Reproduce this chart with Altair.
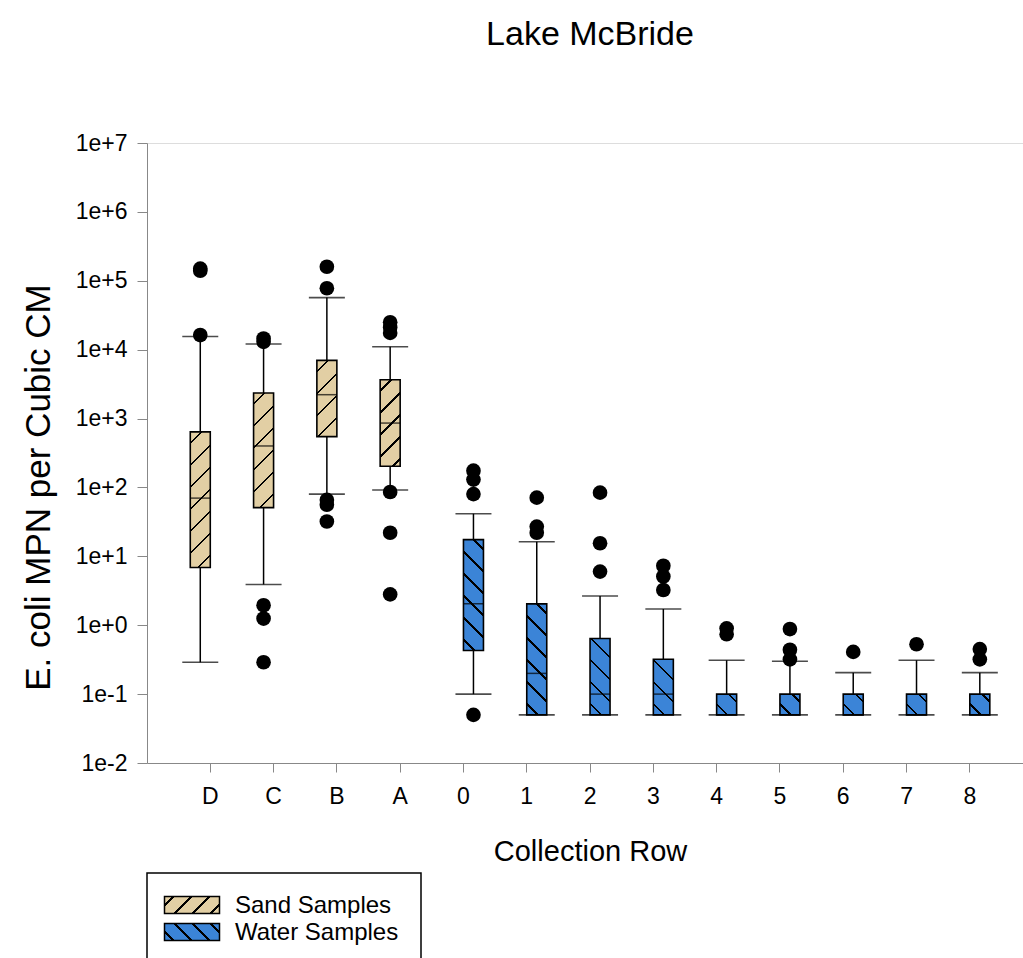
import math
import altair as alt
import pandas as pd

# ---------------- data ----------------
CATS = ["D", "C", "B", "A", "0", "1", "2", "3", "4", "5", "6", "7", "8"]
GROUPS = ["Sand", "Sand", "Sand", "Sand", "Water", "Water", "Water", "Water",
          "Water", "Water", "Water", "Water", "Water"]
LOWER = [0.29, 3.9, 80, 92, 0.1, 0.05, 0.05, 0.05, 0.05, 0.05, 0.05, 0.05, 0.05]
Q1 = [6.9, 51, 546, 203, 0.43, 0.05, 0.05, 0.05, 0.05, 0.05, 0.05, 0.05, 0.05]
MEDIAN = [70, 400, 2220, 860, 2.05, 0.2, 0.1, 0.1, 0.05, 0.05, 0.05, 0.05, 0.05]
Q3 = [640, 2350, 7000, 3650, 17.5, 2.04, 0.64, 0.32, 0.1, 0.1, 0.1, 0.1, 0.1]
UPPER = [15500, 12100, 57000, 11000, 41.5, 16.3, 2.65, 1.72, 0.31, 0.30, 0.205, 0.31, 0.205]
OUTLIERS = [
    [150000, 140000, 16300],
    [14500, 13000, 1.95, 1.25, 0.29],
    [160000, 78000, 66, 56, 32],
    [25000, 21000, 17500, 86, 22, 2.8],
    [175, 130, 80, 0.05],
    [71, 27, 22],
    [84, 15.5, 6.0],
    [7.3, 5.1, 3.25],
    [0.9, 0.74],
    [0.88, 0.44, 0.32],
    [0.41],
    [0.53],
    [0.45, 0.32],
]
GROUP_NAMES = ["Sand", "Water"]
LEGEND_LABELS = ["Sand Samples", "Water Samples"]
Y_TICKS = [1e-2, 1e-1, 1e0, 1e1, 1e2, 1e3, 1e4, 1e5, 1e6, 1e7]

TITLE = "Lake McBride"
X_TITLE = "Collection Row"
Y_TITLE = "E. coli MPN per Cubic CM"

# ---------------- style ----------------
FONT = "Liberation Sans"
SAND = "#E2CFA4"
WATER = "#3B84D7"
HATCH = {"Sand": "/", "Water": "\\"}
FILL = {"Sand": SAND, "Water": WATER}
PLOT_W, PLOT_H = 876, 620
Y_MIN, Y_MAX = 1e-2, 1e7
BOX_W = 20
DECADES = math.log10(Y_MAX) - math.log10(Y_MIN)


def hatch_gradient(color, w, h, direction, period=22.0, lw=1.6):
    L = w + h
    m = L / (w * w + h * h)
    gx, gy = w * m, h * m
    if direction == "/":
        x1, y1, x2, y2 = 0, 0, gx, gy
    else:
        x1, y1, x2, y2 = 0, 1, gx, 1 - gy
    half = lw * math.sqrt(2) / 2.0
    stops = [alt.GradientStop(color=color, offset=0)]
    c = period / 2.0
    while c - half < L:
        a = max(0.0, (c - half) / L)
        b = min(1.0, (c + half) / L)
        stops += [alt.GradientStop(color=color, offset=a),
                  alt.GradientStop(color="black", offset=a),
                  alt.GradientStop(color="black", offset=b),
                  alt.GradientStop(color=color, offset=b)]
        c += period
    stops.append(alt.GradientStop(color=color, offset=1))
    return alt.LinearGradient(gradient="linear", stops=stops, x1=x1, y1=y1, x2=x2, y2=y2)


box_df = pd.DataFrame({"row": CATS, "group": GROUPS, "lower": LOWER, "q1": Q1,
                       "median": MEDIAN, "q3": Q3, "upper": UPPER})
out_rows = []
for cat, grp, vals in zip(CATS, GROUPS, OUTLIERS):
    for v in vals:
        out_rows.append({"row": cat, "group": grp, "value": v})
out_df = pd.DataFrame(out_rows)

x_enc = alt.X(
    "row:N",
    scale=alt.Scale(domain=CATS, paddingInner=0.368, paddingOuter=0.604, align=0.566),
    axis=alt.Axis(
        title=X_TITLE, labelAngle=0, labelFontSize=23, labelPadding=13, grid=False,
        tickSize=9, titleFontSize=29, titleFontWeight="normal", titleX=443, titleY=97,
        titleBaseline="alphabetic", titleAlign="center",
    ),
)
xo_enc = alt.XOffset("group:N", scale=alt.Scale(domain=GROUP_NAMES, paddingInner=0, paddingOuter=0))
y_scale = alt.Scale(type="log", domain=[Y_MIN, Y_MAX])
y_axis = alt.Axis(
    title=Y_TITLE, values=Y_TICKS, format=".0e", labelFontSize=23, labelPadding=10,
    tickSize=10, titleFontSize=35, titleFontWeight="normal", grid=False, titleAngle=270,
    titleX=-98, titleY=344, titleBaseline="alphabetic", titleAlign="center",
)

base = alt.Chart(box_df)

whisker = base.mark_rule(color="black", strokeWidth=1.5).encode(
    x=x_enc, xOffset=xo_enc,
    y=alt.Y("lower:Q", scale=y_scale, axis=y_axis), y2="upper:Q",
)

layers = [whisker]
for i, cat in enumerate(CATS):
    h = (math.log10(Q3[i]) - math.log10(Q1[i])) * PLOT_H / DECADES
    grad = hatch_gradient(FILL[GROUPS[i]], BOX_W, max(h, 1.0), HATCH[GROUPS[i]])
    one = box_df[box_df["row"] == cat]
    layers.append(
        alt.Chart(one).mark_bar(fill=grad, stroke="black", strokeWidth=1.6).encode(
            x=x_enc, xOffset=xo_enc,
            y=alt.Y("q1:Q", scale=y_scale, axis=y_axis), y2="q3:Q",
        )
    )

median = base.mark_tick(color="black", thickness=1.5, size=BOX_W, orient="horizontal").encode(
    x=x_enc, xOffset=xo_enc, y=alt.Y("median:Q", scale=y_scale, axis=y_axis))
cap_lo = base.mark_tick(color="black", thickness=1.6, size=36, orient="horizontal").encode(
    x=x_enc, xOffset=xo_enc, y=alt.Y("lower:Q", scale=y_scale, axis=y_axis))
cap_hi = base.mark_tick(color="black", thickness=1.6, size=36, orient="horizontal").encode(
    x=x_enc, xOffset=xo_enc, y=alt.Y("upper:Q", scale=y_scale, axis=y_axis))
points = alt.Chart(out_df).mark_circle(color="black", opacity=1, size=215).encode(
    x=x_enc, xOffset=xo_enc, y=alt.Y("value:Q", scale=y_scale, axis=y_axis))
layers += [median, cap_lo, cap_hi, points]

# ---------------- legend (drawn below the plot) ----------------
leg_data = alt.Data(values=[{"label": LEGEND_LABELS[0]}])
legend_box = alt.Chart(leg_data).mark_rect(fill="white", stroke="black", strokeWidth=1.5).encode(
    x=alt.value(0), x2=alt.value(274), y=alt.value(730), y2=alt.value(860))
layers.append(legend_box)
for k, (lab, grp) in enumerate(zip(LEGEND_LABELS, GROUP_NAMES)):
    y0 = 753.5 + k * 27
    sw = alt.Chart(alt.Data(values=[{"label": lab}])).mark_rect(
        fill=hatch_gradient(FILL[grp], 55, 17, HATCH[grp], period=18.0),
        stroke="black", strokeWidth=1.5,
    ).encode(x=alt.value(17.5), x2=alt.value(72.5), y=alt.value(y0), y2=alt.value(y0 + 17))
    tx = alt.Chart(alt.Data(values=[{"label": lab}])).mark_text(
        align="left", baseline="middle", fontSize=24, font=FONT, color="black",
    ).encode(text="label:N", x=alt.value(88), y=alt.value(y0 + 9))
    layers += [sw, tx]

chart = alt.layer(*layers).properties(
    width=PLOT_W, height=PLOT_H,
    title=alt.TitleParams(TITLE, fontSize=34, font=FONT, fontWeight="normal", anchor="middle",
                          offset=53, baseline="alphabetic", dx=5, color="black"),
    autosize=alt.AutoSizeParams(type="none"),
    padding={"left": 147, "top": 143, "right": 0, "bottom": 195},
).configure_view(stroke=None, fill="white").configure_axis(
    labelFont=FONT, titleFont=FONT, labelColor="black", titleColor="black",
    domainColor="black", tickColor="black", domainWidth=1.5, tickWidth=1.5,
    titleFontWeight="normal", grid=False, gridColor="white", gridOpacity=0,
).configure(background="white")

chart.save("out.html", embed_options={"renderer": "svg", "actions": False})
